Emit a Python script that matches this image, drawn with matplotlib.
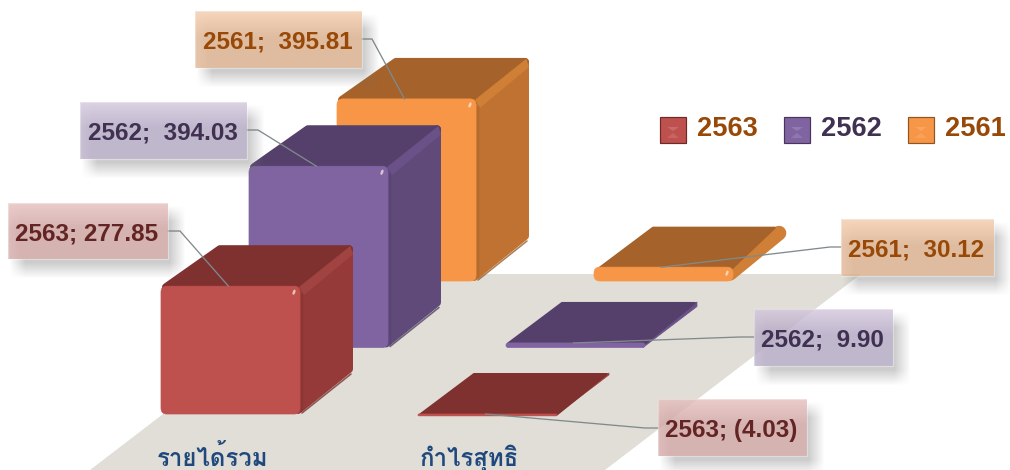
import numpy as np
import matplotlib
matplotlib.use("Agg")
import matplotlib.pyplot as plt
from matplotlib import font_manager as fm
from matplotlib.ft2font import FT2Font
from matplotlib.patches import Polygon, FancyBboxPatch, Ellipse, Rectangle

categories = ["รายได้รวม", "กำไรสุทธิ"]
series_names = ["2563", "2562", "2561"]
values_2563 = [277.85, -4.03]
values_2562 = [394.03, 9.90]
values_2561 = [395.81, 30.12]
labels_2563 = ["2563; 277.85", "2563; (4.03)"]
labels_2562 = ["2562;  394.03", "2562;  9.90"]
labels_2561 = ["2561;  395.81", "2561;  30.12"]
all_values = [values_2563, values_2562, values_2561]
all_labels = [labels_2563, labels_2562, labels_2561]

FRONT = ["#BE504E", "#8064A2", "#F79646"]
SIDE = ["#953A38", "#604A7A", "#BF7231"]
TOP = ["#7F3130", "#55406B", "#A5622B"]
STRIP = ["#A14341", "#6A5187", "#CF7F36"]
DARK = ["#6E2A28", "#46365C", "#8F5522"]
TEXTC = ["#632523", "#403152", "#984807"]
LEGTEXT = ["#984807", "#403152", "#984807"]
BOX_TOP = ["#EBCCCB", "#DCD2E4", "#F6D6BC"]
BOX_BOT = ["#D6B3B2", "#C0B7CD", "#E0BDA1"]
# label boxes (left, top, right, bottom) in pixels, per series then category
BOXES = [[(8, 203, 168, 259), (658, 399, 807, 456)],
         [(80, 102, 247, 159), (754, 309, 893, 366)],
         [(195, 11, 362, 68), (841, 219, 994, 276)]]
ELBOW = [[(180, 231), (645, 428)], [(258, 130), (740, 337)], [(372, 39), (830, 247)]]

# Thai-capable font lookup
thai = []
for f in fm.fontManager.ttflist:
    try:
        if 0x0E23 in FT2Font(f.fname).get_charmap():
            thai.append(f)
    except Exception:
        pass
thai.sort(key=lambda f: (0 if str(f.weight) in ("bold", "700") else 1, "Serif" in f.name))
thai_family = [thai[0].name, "DejaVu Sans"] if thai else ["Noto Sans", "DejaVu Sans"]

plt.rcParams["font.family"] = ["Liberation Sans", "DejaVu Sans"]
fig = plt.figure(figsize=(10.1, 4.7), dpi=100)
ax = fig.add_axes([0, 0, 1, 1])
PX = 0.72

# projection constants
X0, CAT_DX, SER_DX = 161, 257, 88
Y0, SER_DY = 414, 66.5
WIDTH, DEPTH_X, DEPTH_Y = 139, 53, 41
PX_PER_UNIT = 0.46


def hex_rgb(c):
    return np.array(matplotlib.colors.to_rgb(c))


def draw_bar(cat, s, value):
    xl = X0 + CAT_DX * cat + SER_DX * s
    xr = xl + WIDTH
    base = Y0 - SER_DY * s
    y_a = base - value * PX_PER_UNIT
    yt, yb = min(y_a, base), max(y_a, base)
    h = yb - yt
    z = 3 - s * 0.1
    dx, dy = DEPTH_X, DEPTH_Y
    if h >= 30:
        r = 4
        w = 2 * r * PX
        side = [(xr - 2, yt + r), (xr + dx - r, yt - dy + r),
                (xr + dx - r, yb - dy - r), (xr - 2, yb - r)]
        ax.add_patch(Polygon(side, closed=True, fc=SIDE[s], ec=SIDE[s], lw=w,
                             joinstyle="round", zorder=z))
        top = [(xl + 5, yt + 1), (xl + dx + 6, yt - dy + r),
               (xr + dx - r, yt - dy + r), (xr, yt + 1)]
        ax.add_patch(Polygon(top, closed=True, fc=TOP[s], ec=TOP[s], lw=w,
                             joinstyle="round", zorder=z + 0.01))
        strip = [(xr, yt + 1), (xr + dx - 3, yt - dy + 2), (xr + dx - 1, yt - dy + 9), (xr + 4, yt + 8)]
        ax.add_patch(Polygon(strip, closed=True, fc=STRIP[s], ec=STRIP[s], lw=1.5 * PX,
                             joinstyle="round", zorder=z + 0.02))
        ax.plot([xr + 2, xr + dx - 2], [yb - 1, yb - dy + 1], color=DARK[s], lw=1.6 * PX,
                alpha=0.75, solid_capstyle="round", zorder=z + 0.02)
        ax.plot([xr + 2, xr + 2], [yt + 8, yb - 4], color=DARK[s], lw=2.5 * PX, alpha=0.22,
                zorder=z + 0.02)
    elif h >= 10:
        lw = h * 1.05
        ax.plot([xr - 3, xr + dx - h * 0.5], [yt + h * 0.45, yt - dy + h * 0.5],
                color=STRIP[s], lw=lw * PX, solid_capstyle="round", zorder=z)
        top = [(xl + 5, yt + 1), (xl + dx + 6, yt - dy + 1.5),
               (xr + dx - h * 0.8, yt - dy + 1.5), (xr - 4, yt + h * 0.3)]
        ax.add_patch(Polygon(top, closed=True, fc=TOP[s], ec=TOP[s], lw=2 * PX,
                             joinstyle="round", zorder=z + 0.01))
    else:
        side = [(xr - 2, yt), (xr + dx - 1, yt - dy), (xr + dx - 1, yb - dy), (xr - 2, yb)]
        ax.add_patch(Polygon(side, closed=True, fc=STRIP[s], ec=STRIP[s], lw=0.5,
                             zorder=z))
        top = [(xl + 2, yt + 0.5), (xl + dx + 3, yt - dy + 1),
               (xr + dx - 3, yt - dy + 1), (xr, yt + 0.5)]
        ax.add_patch(Polygon(top, closed=True, fc=TOP[s], ec=TOP[s], lw=2 * PX,
                             joinstyle="round", zorder=z + 0.01))
    # front
    rr = min(6, h / 2)
    ax.add_patch(FancyBboxPatch((xl, yt), WIDTH, h,
                                boxstyle=f"round,pad=0,rounding_size={rr}",
                                fc=FRONT[s], ec=FRONT[s], lw=0.5, zorder=z + 0.03))
    if h > 10:
        ax.add_patch(Ellipse((xr - 6, yt + 6), 2.6, 5.5, angle=20, fc="#FFE8DC", ec="none",
                             alpha=0.75, zorder=z + 0.04))
    return (xl + xr) / 2 - 2, yt


def gradient_box(s, box):
    l, t, r, b = box
    # shadow, hidden where the label box covers it
    pad = 14
    sx0, sy0, sx1, sy1 = l + 9, t + 10, r + 9, b + 11
    xs = np.arange(sx0 - pad, sx1 + pad)
    ys = np.arange(sy0 - pad, sy1 + pad)
    fx = np.clip((xs - sx0 + 8) / 16, 0, 1) * np.clip((sx1 + 8 - xs) / 16, 0, 1)
    fy = np.clip((ys - sy0 + 8) / 16, 0, 1) * np.clip((sy1 + 8 - ys) / 16, 0, 1)
    al = np.outer(fy, fx)
    al[np.ix_((ys >= t) & (ys < b), (xs >= l) & (xs < r))] = 0
    sh = np.zeros(al.shape + (4,))
    sh[..., :3] = 0.45
    sh[..., 3] = 0.36 * al
    ax.imshow(sh, extent=(xs[0], xs[-1] + 1, ys[-1] + 1, ys[0]), aspect="auto", zorder=6,
              interpolation="nearest")
    # body
    a = 0.8
    ct, cb = hex_rgb(BOX_TOP[s]), hex_rgb(BOX_BOT[s])
    hh, ww = b - t, r - l
    tv = np.linspace(0, 1, hh)[:, None, None]
    tv = np.clip(tv * 2.2, 0, 1)
    img = ct * (1 - tv) + cb * tv
    left = np.clip(1 - np.arange(ww) / 12, 0, 1)[None, :, None] * 0.35
    img = img * (1 - left) + ct * left
    base = (img - (1 - a)) / a
    rgba = np.dstack([np.clip(base, 0, 1), np.full((hh, ww), a)])
    ax.imshow(rgba, extent=(l, r, b, t), aspect="auto", zorder=7, interpolation="bilinear")
    ax.add_patch(Rectangle((l, t), ww, hh, fc="none", ec="white", lw=1.2 * PX, alpha=0.35, zorder=7.1))


# floor
floor = [(346, 274), (861, 274), (605, 470), (90, 470)]
ax.add_patch(Polygon(floor, closed=True, fc="#E0DED6", ec="none", zorder=1))

anchors = {}
for s in (2, 1, 0):
    for cat in range(len(categories)):
        anchors[(s, cat)] = draw_bar(cat, s, all_values[s][cat])

# labels and leader lines
for s in range(3):
    for cat in range(len(categories)):
        box = BOXES[s][cat]
        gradient_box(s, box)
        ax_, ay_ = anchors[(s, cat)]
        ex, ey = ELBOW[s][cat]
        start = box[2] if cat == 0 else box[0]
        ax.plot([start, ex, ax_], [ey, ey, ay_], color="#7F8A8C", lw=1.3 * PX, zorder=5)
        ax.text((box[0] + box[2]) / 2 - 1, (box[1] + box[3]) / 2, all_labels[s][cat],
                color=TEXTC[s], fontsize=24.3 * PX, fontweight="bold", ha="center",
                va="center_baseline", zorder=8)

# category labels
for cat, name in enumerate(categories):
    ax.text(X0 + WIDTH / 2 - 18 + CAT_DX * cat, 458, name, color="#1F497D",
            fontsize=24 * PX, fontweight="bold", ha="center", va="center",
            family=thai_family, zorder=4)

# legend
for i, name in enumerate(series_names):
    x = 660 + 124 * i
    ax.add_patch(Rectangle((x, 117), 26, 26, fc=FRONT[i], ec=DARK[i], lw=1.2 * PX, zorder=9))
    ax.add_patch(Polygon([(x + 7, 127), (x + 19, 127), (x + 13, 131)], closed=True,
                         fc="white", ec="none", alpha=0.15, zorder=9.1))
    ax.add_patch(Polygon([(x + 7, 138), (x + 19, 138), (x + 13, 133)], closed=True,
                         fc="white", ec="none", alpha=0.12, zorder=9.1))
    ax.text(x + 37, 126, name, color=LEGTEXT[i], fontsize=27.3 * PX, fontweight="bold",
            ha="left", va="center_baseline", zorder=9)

ax.set_xlim(0, 1010)
ax.set_ylim(470, 0)
ax.axis("off")
fig.savefig("out.png", dpi=100, facecolor="white")
